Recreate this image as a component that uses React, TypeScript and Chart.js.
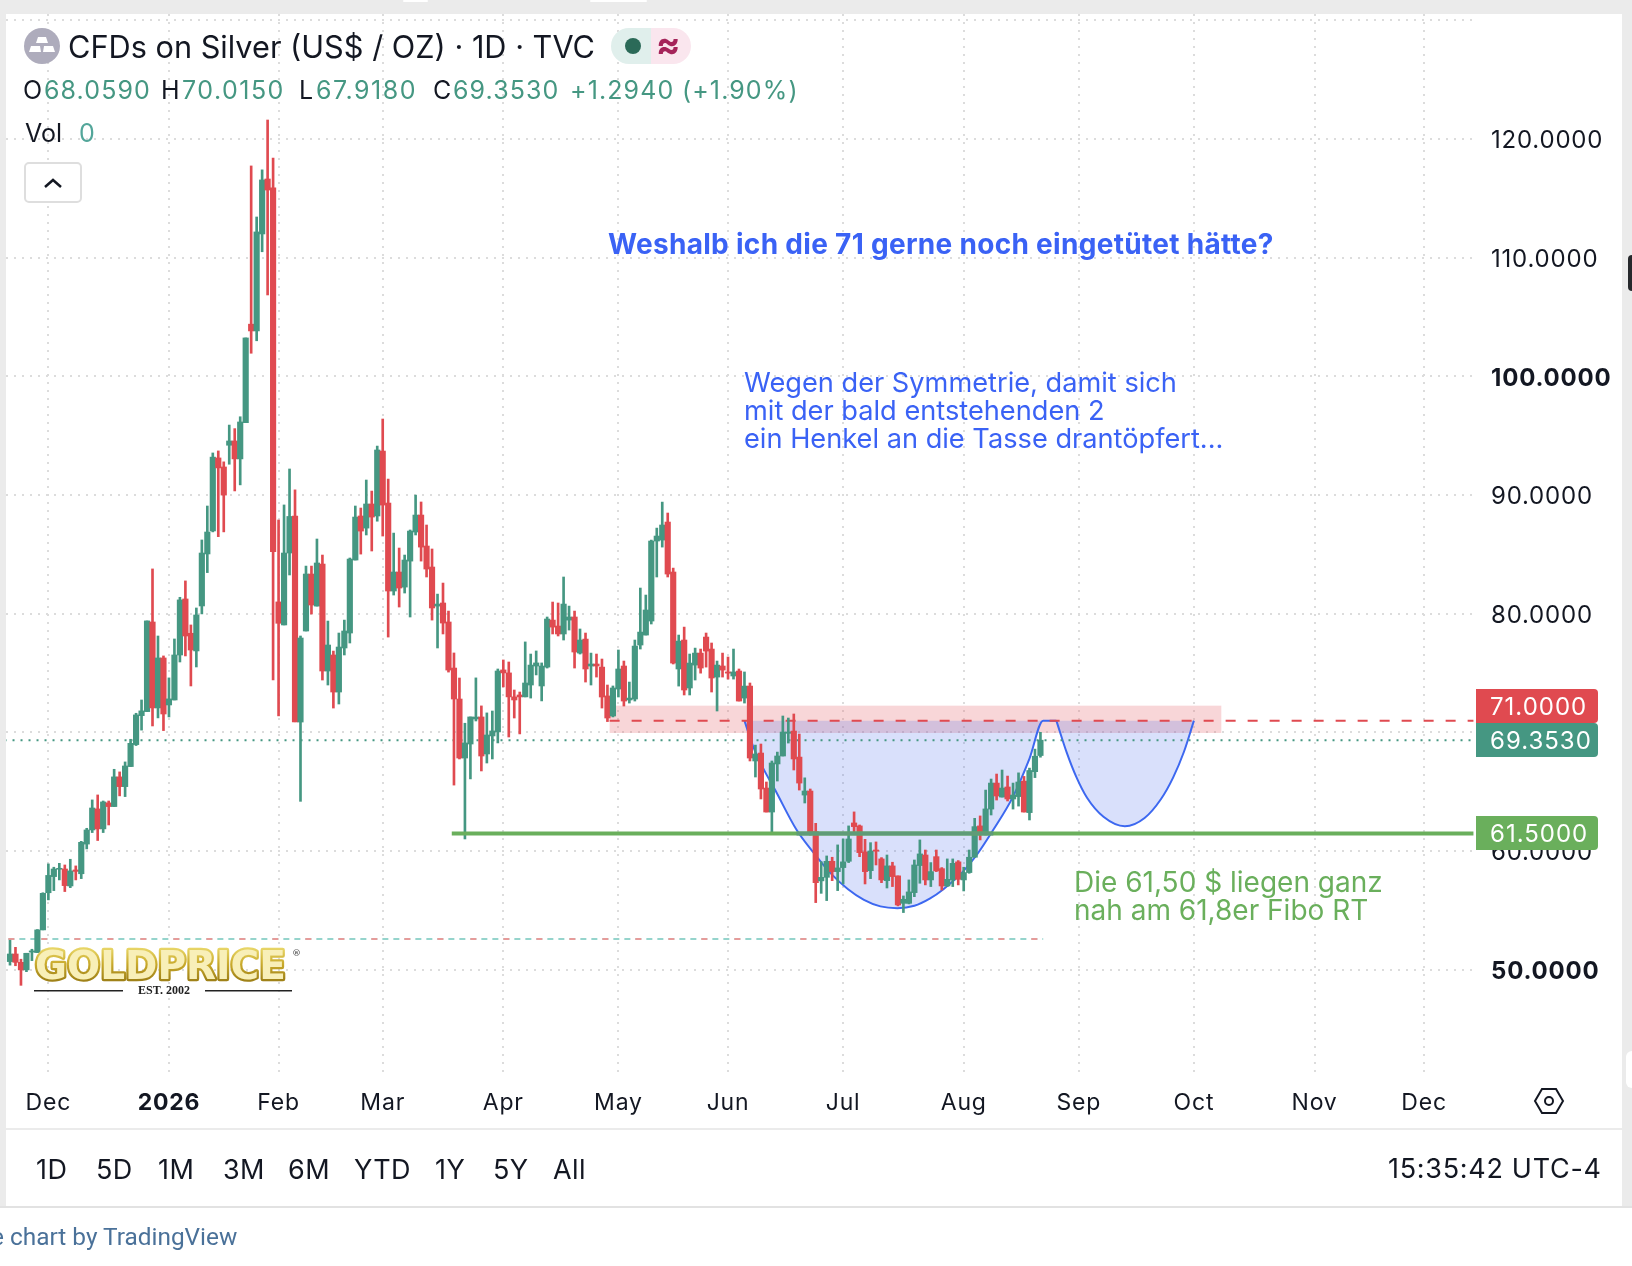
import React, { useEffect, useRef } from "react";
import { Chart, registerables } from "chart.js";

Chart.register(...registerables);

const opens = [50.7,51.34,50.64,50,51.5,51.46,53.37,56.5,57.86,58.48,58.5,57.07,58.42,58.1,60.6,61.79,63.56,61.88,64.07,63.76,66.26,65.44,67.13,68.98,71.42,71.76,79.31,72.07,76.28,72.32,72.74,76.53,81.25,78.36,76.87,80.66,85.04,86.98,93.13,92.37,94.2,94.56,93.05,96.1,104.4,103.83,112,116.63,115.88,81,79.06,85.12,88.24,70.88,78.55,83.35,80.65,84.19,75.18,76.53,73.41,77.12,78.38,84.53,88.24,87.22,89.25,88.24,93.71,89.33,81.92,83.52,82.25,84.44,86.89,88.32,85.71,83.94,80.65,80.91,79.31,75.43,72.82,67.85,69.03,71.14,71.31,68.19,69.71,70.05,75.27,75.02,73,73.16,73,74,75.6,73.92,75.51,79.47,78.97,78.3,79.47,79.73,76.69,77.87,75.6,75.77,75.51,73.08,71.39,73.66,75.6,72.74,72.82,77.37,78.21,79.39,86.13,86.21,87.73,83.52,75.35,77.79,73.75,75.68,76.69,78.04,77.03,74.67,75.6,75.1,74.76,75.18,72.9,73.91,67.6,68.27,65.32,63.3,67.35,68.02,69.93,70.12,67.93,64.73,65.07,61.65,57.5,57.8,59.15,58.28,58.62,59.15,62.38,62.13,59.94,58.36,60.1,59.35,57.52,58.76,57.92,55.61,55.61,56.51,58.79,59.68,57.58,59.54,58.53,57.07,57.58,59.1,57.58,58.2,59.49,62.13,61.45,63.55,65.74,64.56,65.41,64.4,64.6,65.9,63.25,66.7,68.059];
const highs = [52.5,51.9,50.9,51.4,51.74,53.4,56.5,58.93,58.65,58.98,58.84,59.32,58.76,60.83,61.93,64.32,64.74,64.23,64.23,66.9,66.68,67.52,69.43,71.62,72.74,79.4,83.78,78.13,76.45,74.6,77.88,81.39,82.77,79.06,80.49,86.22,89.08,93.55,93.72,92.8,95.9,95.6,96.6,103.24,117.73,113.43,117.4,121.6,118.4,87.9,89.17,92.2,90.44,78.13,84.02,84.02,86.3,84.95,79.39,76.86,78.38,79.47,84.7,89.08,88.91,91.27,90.34,94.13,96.41,91.35,86.8,85.54,84.95,87.06,90,89.42,87.48,85.46,81.66,82.59,80.23,76.7,74.59,70.78,71.31,74.6,72.24,71.65,71.81,75.35,76.11,75.94,73.58,73.41,77.63,76.61,76.87,75.86,79.73,80.99,80.91,83.1,80.65,80.23,78.72,78.38,76.69,76.61,76.19,74,73.92,76.95,76.02,74.25,77.79,82.17,81.58,86.21,87.22,89.41,88.49,83.85,78.21,78.88,76.61,77.11,77.03,78.38,77.54,76.02,76.69,76.36,77.03,75.35,75.1,74.17,68.94,69.03,65.83,67.6,68.35,71.39,71.22,71.56,69.87,66.18,65.24,62.35,59.12,59.6,59.49,60.53,61.03,62.13,63.31,62.21,61,60.72,60.78,59.46,59.68,59.07,57.92,56.23,57.58,59.26,60.95,60.1,59.04,60.1,58.62,59.35,59.35,59.21,58.65,60.1,62.77,62.97,65.15,66.08,66.5,66.84,66.33,65.74,66.6,66.3,67,68.6,70.015];
const lows = [50.4,50.35,48.7,49.85,50.78,51.46,53.37,55.9,56.68,57.58,56.6,56.93,57.58,57.69,60.19,61.57,60.9,61.57,62.21,63.76,64.66,64.6,67.13,68.9,70.2,71.76,70.55,71.23,70.16,71.31,72.74,75.94,76.45,73.92,75.52,79.99,83.47,86.9,86.5,86.9,92.6,90.35,90.86,96.1,101.95,103,110.5,106.86,74.43,71.4,79.06,83.27,70.9,64.2,78.55,79.98,80.65,74.42,74,72.06,72.4,76.53,77.54,84.53,85.03,86.64,85.29,87.8,86.55,78.04,81.58,80.57,81.75,79.73,86.64,84.44,83.1,79.47,77.12,78.3,75.09,65.57,67.77,61.03,66.09,70.97,66.76,67.43,67.77,69.12,73.84,69.62,71.22,69.88,73,72.9,74.85,72.66,75.43,78.3,78.13,77.79,78.63,75.43,76.61,74.25,74,74.67,72.06,70.92,71.31,72.99,72.23,72.48,72.65,77.03,78.21,79.14,83.1,85.62,83.1,75.77,73.91,73.16,73.16,74.42,75,75.51,73.41,71.81,74.67,74.5,74.5,72.65,72.48,67.6,66.25,64.4,63.3,61.53,65.91,68.02,69.11,66.84,65.15,64.06,61.36,55.67,56.45,55.84,57.52,56.68,57.24,59.04,61.45,59.54,57.24,57.69,58.84,57.35,56.9,57.02,55.39,54.83,55.56,56.17,57.3,57.16,57.02,58.28,56.73,57.02,57.02,57.16,56.65,58.14,59.49,60.95,61.37,63.05,64.31,64.56,64.23,63.55,63.8,63.3,62.63,66.2,67.918];
const closes = [51.34,50.64,50,51.4,51.6,53.37,56.45,57.96,58.5,58.56,57.1,58.34,58.3,60.75,61.79,63.64,61.88,64.15,63.76,66.26,65.44,67.18,69.09,71.48,71.82,79.4,72.07,76.28,71.56,72.83,76.53,81.17,78.13,76.95,79.9,85.12,86.89,93.2,92.29,90,94.56,93.05,96.16,103.24,103.83,112.17,116.55,115.7,85.24,79.2,85.12,88.2,70.9,77.96,83.35,80.74,84.28,75.18,77.37,73.41,77.2,78.55,84.61,88.15,86.97,89.25,88.15,93.8,89.16,81.92,83.52,82.17,84.53,86.97,88.32,85.62,83.77,80.49,80.82,79.22,75.26,72.82,67.85,69.12,71.31,71.3,68.02,69.79,70.13,75.18,75.02,73,72.74,73,74.17,75.68,75.86,75.6,79.56,78.88,78.3,80.82,79.73,76.78,77.79,75.35,75.77,75.6,72.99,71.22,73.75,75.35,72.65,72.9,77.28,78.46,80.32,86.13,86.55,87.48,83.35,75.85,77.7,73.58,75.85,76.69,75.43,76.86,74.59,75.68,75.26,75,75.1,72.65,73.91,67.85,68.19,65.24,63.3,67.43,68.02,70.04,70.04,67.77,65.74,65.07,61.53,57.35,57.8,59.15,58.28,58.59,59.1,61.03,62.07,59.88,58.28,60.02,60,57.58,58.76,57.86,55.47,55.95,56.57,58.84,59.77,57.58,58.28,58.34,57.07,57.63,58.98,57.63,58.2,59.49,62.07,61.43,63.56,65.74,64.65,65.32,64.4,64.73,65.83,63.3,66.8,68,69.353];

const monthTickIdx = [7,29,49,68,90,111,131,152,174,195,216,238,258];
const monthLabels = ["Dec","2026","Feb","Mar","Apr","May","Jun","Jul","Aug","Sep","Oct","Nov","Dec"];
const priceTicks = [50,60,70,80,90,100,110,120,130];

const cupOneIdx = [134,135.6,137.4,139.6,143.5,146.9,149.6,152.9,155.8,158.8,161.9,165,167.8,170.3,173.9,176.4,179.4,183,186,188.5,190.9];
const cupOneVal = [71,68.8,67,65.15,61.8,59.7,58.2,56.8,55.9,55.35,55.2,55.4,56,56.8,58.3,59.7,61.8,64.6,67.8,71,71];
const cupTwoIdx = [190.9,192.8,194.5,196.5,199.5,203.4,207,210,212.2,214.2,216];
const cupTwoVal = [71,68.3,66.3,64.5,62.9,62.1,62.8,64.4,66.2,68.4,71];

const supportLevel = 61.5;
const supportSpan = [80.6,267];
const supportCupSpan = [143.5,179.4];
const resistanceLevel = 71;
const resistanceSpan = [109.4,267];
const lastPrice = 69.353;
const fullSpan = [-1,268];
const fiboLevel = 52.6;
const fiboSpan = [-0.3,188.5];
const zoneSpan = [109.4,221];
const zoneVals = [72.26,69.96];

const priceTags = [
  { value: 71, text: "71.0000", color: "#e04a50", top: 689 },
  { value: 69.353, text: "69.3530", color: "#459782", top: 723 },
  { value: 61.5, text: "61.5000", color: "#6aaf5c", top: 816 },
];

const headline = "Weshalb ich die 71 gerne noch eingetütet hätte?";
const blueNote = ["Wegen der Symmetrie, damit sich","mit der bald entstehenden 2","ein Henkel an die Tasse drantöpfert..."];
const greenNote = ["Die 61,50 $ liegen ganz","nah am 61,8er Fibo RT"];
const rangeButtons = [["1D",36],["5D",96],["1M",158],["3M",223],["6M",288],["YTD",354],["1Y",435],["5Y",493],["All",553]] as const;

const GREEN = "#459782";
const RED = "#e04a50";
const FONT = "Inter, sans-serif";

const xy = (xs: number[], ys: number[]) => xs.map((x, i) => ({ x, y: ys[i] }));
const hline = (span: number[], v: number) => span.map((x) => ({ x, y: v }));
const noPad = (s: any) => { s.paddingTop = 0; s.paddingBottom = 0; s.paddingLeft = 0; s.paddingRight = 0; };

const overlay = {
  id: "overlay",
  beforeDraw(chart: any) {
    chart.ctx.letterSpacing = "0.8px";
    chart.scales.y.getLabelItems().forEach((item: any) => {
      if (!item.shifted) {
        item.textOffset += 2;
        item.shifted = true;
      }
    });
  },
  beforeDatasetsDraw(chart: any) {
    const { ctx, scales: { x, y } } = chart;
    ctx.save();
    ctx.fillStyle = "rgba(232,120,125,0.3)";
    const l = x.getPixelForValue(zoneSpan[0]);
    const r = x.getPixelForValue(zoneSpan[1]);
    const t = y.getPixelForValue(zoneVals[0]);
    const b = y.getPixelForValue(zoneVals[1]);
    ctx.fillRect(l, t, r - l, b - t);
    ctx.restore();
  },
  afterDatasetsDraw(chart: any) {
    const { ctx } = chart;
    ctx.save();
    ctx.textBaseline = "middle";
    ctx.fillStyle = "#3a62f5";
    ctx.letterSpacing = "0.3px";
    ctx.font = `700 28px ${FONT}`;
    ctx.fillText(headline, 608, 246);
    ctx.letterSpacing = "0px";
    ctx.font = `400 27.2px ${FONT}`;
    blueNote.forEach((s, i) => ctx.fillText(s, 744, 384 + i * 28));
    ctx.font = `400 28px ${FONT}`;
    ctx.fillStyle = "#6aaf5c";
    greenNote.forEach((s, i) => ctx.fillText(s, 1074, 884 + i * 28));

    const g = ctx.createLinearGradient(0, 948, 0, 980);
    g.addColorStop(0, "#e8d668");
    g.addColorStop(0.5, "#c9aa2c");
    g.addColorStop(1, "#a08218");
    ctx.font = `700 39px "DejaVu Sans"`;
    ctx.textBaseline = "alphabetic";
    ctx.lineWidth = 4.5;
    ctx.lineJoin = "round";
    ctx.strokeStyle = g;
    ctx.fillStyle = "#f8efb8";
    ctx.strokeText("GOLDPRICE", 35, 979, 256);
    ctx.fillText("GOLDPRICE", 35, 979, 256);
    ctx.fillStyle = "#666";
    ctx.font = `700 9px "DejaVu Sans"`;
    ctx.fillText("®", 292, 956);
    ctx.fillStyle = "#222";
    ctx.font = `700 12px "Liberation Serif"`;
    ctx.textAlign = "center";
    ctx.fillText("EST. 2002", 164, 994);
    ctx.textAlign = "left";
    ctx.fillRect(34, 990, 89, 1.5);
    ctx.fillRect(205, 990, 87, 1.5);

    ctx.textBaseline = "middle";
    ctx.letterSpacing = "1px";
    ctx.font = `400 24px ${FONT}`;
    priceTags.forEach((tag) => {
      ctx.fillStyle = tag.color;
      ctx.beginPath();
      ctx.roundRect(1476, tag.top, 122, 34, [0, 4, 4, 0]);
      ctx.fill();
      ctx.fillStyle = "#fff";
      ctx.fillText(tag.text, 1490, tag.top + 19);
    });
    ctx.restore();
  },
};

function Txt({ x, y, size = 25, color = "#131722", children, weight = 400, font = FONT, spacing = 0 }: any) {
  return (
    <div style={{ position: "absolute", left: x, top: y, transform: "translateY(-50%)", fontSize: size, color, fontWeight: weight, fontFamily: font, letterSpacing: spacing, whiteSpace: "nowrap", lineHeight: 1 }}>
      {children}
    </div>
  );
}

function Box({ l, t, w, h, bg, r = 0, extra = {} }: any) {
  return <div style={{ position: "absolute", left: l, top: t, width: w, height: h, background: bg, borderRadius: r, ...extra }} />;
}

export default function App() {
  const ref = useRef<HTMLCanvasElement>(null);
  useEffect(() => {
    const idx = opens.map((_, i) => i);
    const colors = idx.map((i) => (closes[i] >= opens[i] ? GREEN : RED));
    const wicks = idx.map((i) => ({ x: i, y: [lows[i], highs[i]] }));
    const bodies = idx.map((i) => ({ x: i, y: [opens[i], closes[i]] }));
    const line = (data: any[], color: string, width: number, order: number, dash: number[] = [], extra: any = {}) => ({
      type: "line", data, borderColor: color, borderWidth: width, borderDash: dash, pointRadius: 0, order, fill: false, ...extra,
    });
    const cup = { cubicInterpolationMode: "monotone", fill: { value: 71 }, backgroundColor: "rgba(80,115,235,0.22)" };
    const chart = new Chart(ref.current as HTMLCanvasElement, {
      type: "bar",
      data: {
        datasets: [
          line(hline(supportCupSpan, supportLevel), "#5f9b78", 4, -2),
          line(hline(supportSpan, supportLevel), "#6aaf5c", 4, -1),
          { type: "bar", data: bodies, backgroundColor: colors, barThickness: 5.5, grouped: false, order: 1 },
          { type: "bar", data: wicks, backgroundColor: colors, barThickness: 2, grouped: false, order: 2 },
          line(hline(resistanceSpan, resistanceLevel), RED, 2, 3, [10, 12]),
          line(hline(fullSpan, lastPrice), GREEN, 2, 4, [2, 6]),
          line(xy(cupOneIdx, cupOneVal), "#3d68f0", 2, 5, [], cup),
          line(xy(cupTwoIdx, cupTwoVal), "#3d68f0", 2, 6, [], cup),
          line(hline(fiboSpan, fiboLevel), "rgba(240,150,150,0.9)", 2, 6.5, [6, 27]),
          line(hline(fiboSpan, fiboLevel), "rgba(130,205,195,0.85)", 2, 7, [6, 5]),
        ] as any,
      },
      options: {
        animation: false,
        responsive: false,
        devicePixelRatio: 1,
        events: [],
        layout: { autoPadding: false, padding: { left: 6, top: 14, right: 0, bottom: 137 } },
        plugins: { legend: { display: false }, tooltip: { enabled: false } },
        scales: {
          x: {
            type: "linear",
            min: -0.73,
            max: 267.1,
            offset: false,
            afterBuildTicks(s: any) { s.ticks = monthTickIdx.map((value) => ({ value })); },
            afterFit(s: any) { s.height = 55; noPad(s); },
            grid: { color: "#dcdcdc", lineWidth: 2, drawTicks: false, offset: false },
            border: { display: false, dash: [2, 6] },
            ticks: {
              autoSkip: false, maxRotation: 0, padding: 15, color: "#131722",
              font: (c: any) => ({ family: "Inter", size: 23, weight: c.tick && c.tick.value === 29 ? "700" : "400" }),
              callback: (v: any) => monthLabels[monthTickIdx.indexOf(v)] ?? "",
            },
          },
          y: {
            position: "right",
            min: 41.23,
            max: 130.53,
            afterBuildTicks(s: any) { s.ticks = priceTicks.map((value) => ({ value })); },
            afterFit(s: any) { s.width = 158; noPad(s); },
            grid: { color: "#dcdcdc", lineWidth: 2, drawTicks: false },
            border: { display: false, dash: [2, 6] },
            ticks: {
              padding: 17, color: "#131722",
              font: (c: any) => ({ family: "Inter", size: 24, weight: c.tick && (c.tick.value === 100 || c.tick.value === 50) ? "700" : "400" }),
              callback: (v: any) => (v === 130 ? "" : Number(v).toFixed(4)),
            },
          },
        },
      } as any,
      plugins: [overlay],
    } as any);
    return () => chart.destroy();
  }, []);

  const dim = "#131722";
  const up = "#459782";
  const sp = 1.1;
  return (
    <div style={{ position: "absolute", left: 0, top: 0, width: 1632, height: 1266, background: "#fff", overflow: "hidden", fontFamily: FONT }}>
      <Box l={0} t={0} w={1632} h={14} bg="#ebebeb" />
      <Box l={0} t={0} w={6} h={1206} bg="#ebebeb" />
      <Box l={1622} t={0} w={10} h={1206} bg="#ebebeb" />
      <Box l={403} t={0} w={25} h={2} bg="#fff" r={2} />
      <Box l={590} t={0} w={57} h={2} bg="#fff" r={2} />
      <Box l={1628} t={255} w={10} h={36} bg="#26282c" r={4} />
      <Box l={1626} t={1051} w={14} h={37} bg="#fff" r={6} />
      <canvas ref={ref} width={1632} height={1266} style={{ position: "absolute", left: 0, top: 0, display: "block" }} />
      <Box l={6} t={1128} w={1616} h={2} bg="#ebebeb" />
      <Box l={0} t={1206} w={1632} h={2} bg="#e2e2e2" />

      <svg width="36" height="36" viewBox="0 0 36 36" style={{ position: "absolute", left: 24, top: 28 }}>
        <circle cx="18" cy="18" r="18" fill="#aeacbc" />
        <path d="M14 9 H22 L24 15 H12 Z M7 18 H16 L17 24 H5 Z M20 18 H29 L31 24 H19 Z" fill="#fff" />
      </svg>
      <Txt x={68} y={46.5} size={30.7}>CFDs on Silver (US$ / OZ) · 1D · TVC</Txt>
      <Box l={611} t={28} w={40} h={36} bg="#e0efec" extra={{ borderRadius: "18px 0 0 18px" }} />
      <Box l={651} t={28} w={40} h={36} bg="#fae6ee" extra={{ borderRadius: "0 18px 18px 0" }} />
      <Box l={625} t={38} w={16} h={16} bg="#2b6a58" r={8} />
      <Txt x={656} y={44} size={36} color="#a5245a" weight={700}>≈</Txt>

      <Txt x={23} y={90} size={25}>O</Txt>
      <Txt x={44} y={90} size={25} color={up} spacing={sp}>68.0590</Txt>
      <Txt x={161} y={90} size={25}>H</Txt>
      <Txt x={182} y={90} size={25} color={up} spacing={1.5}>70.0150</Txt>
      <Txt x={299} y={90} size={25}>L</Txt>
      <Txt x={316} y={90} size={25} color={up} spacing={1.5}>67.9180</Txt>
      <Txt x={433} y={90} size={25}>C</Txt>
      <Txt x={453} y={90} size={25} color={up} spacing={sp}>69.3530</Txt>
      <Txt x={570} y={90} size={25} color={up} spacing={sp}>+1.2940</Txt>
      <Txt x={682} y={90} size={25} color={up} spacing={sp}>(+1.90%)</Txt>

      <Txt x={25} y={133} size={25}>Vol</Txt>
      <Txt x={79} y={133} size={25} color="#53a69a">0</Txt>
      <div style={{ position: "absolute", left: 24, top: 162, width: 54, height: 37, border: "2px solid #dedede", borderRadius: 5, background: "#fff" }} />
      <svg width="20" height="12" viewBox="0 0 20 12" style={{ position: "absolute", left: 43, top: 177 }}>
        <path d="M2 10 L10 3 L18 10" stroke={dim} strokeWidth="2.5" fill="none" />
      </svg>

      <svg width="32" height="30" viewBox="0 0 32 30" style={{ position: "absolute", left: 1533, top: 1086 }}>
        <path d="M9 3 H23 L30 15 L23 27 H9 L2 15 Z" stroke={dim} strokeWidth="2" fill="none" />
        <circle cx="16" cy="15" r="4" stroke={dim} strokeWidth="2" fill="none" />
      </svg>

      {rangeButtons.map(([t, x]) => (
        <Txt key={t} x={x} y={1169} size={27} spacing={0.4}>{t}</Txt>
      ))}
      <Txt x={1388} y={1168} size={27} spacing={0.7}>15:35:42 UTC-4</Txt>
      <Txt x={-9} y={1237} size={24.4} color="#4a7199" font="Roboto, sans-serif">e chart by TradingView</Txt>
    </div>
  );
}
